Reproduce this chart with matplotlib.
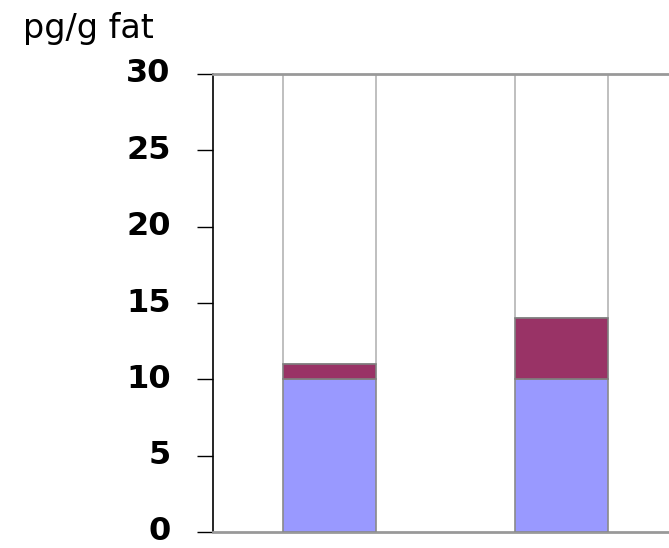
import matplotlib
matplotlib.use("Agg")
import matplotlib.pyplot as plt
import numpy as np

categories = ["A", "B"]
base_values = [10, 10]
top_values = [1, 4]
axis_max = 30
yticks = [0, 5, 10, 15, 20, 25, 30]
ylabel = "pg/g fat"

plt.rcParams['font.family'] = ['DejaVu Sans']

fig = plt.figure(figsize=(6.69, 5.48), dpi=100)
ax = fig.add_axes([213/669, 1 - 532/548, 1 - 213/669 + 0.002, (532 - 74)/548])

x = np.arange(len(categories))
base = np.array(base_values, float)
top = np.array(top_values, float)
rest = axis_max - base - top
w = 0.40

ax.bar(x, rest, w, bottom=base + top, color="white", edgecolor="#b4b4b4", linewidth=1.2, zorder=2)
ax.bar(x, base, w, color="#9999FF", edgecolor="#8a8a8a", linewidth=1.2, zorder=3)
ax.bar(x, top, w, bottom=base, color="#993366", edgecolor="#808080", linewidth=1.2, zorder=3)

ax.set_xlim(-0.504, 1.47)
ax.set_ylim(0, axis_max)
ax.set_yticks(yticks)
ax.set_yticklabels([str(t) for t in yticks], fontsize=23, fontweight="heavy", va="center")
ax.tick_params(axis="y", length=11.5, width=1, color="black", pad=19)
ax.set_xticks([])

ax.spines["right"].set_visible(False)
ax.spines["left"].set_color("black")
ax.spines["left"].set_linewidth(1.2)
ax.spines["top"].set_color("#999999")
ax.spines["top"].set_linewidth(2)
ax.spines["bottom"].set_color("#999999")
ax.spines["bottom"].set_linewidth(2)

fig.text(23/669, 1 - 38/548, ylabel, fontsize=24, ha="left", va="baseline")

fig.savefig("out.png", dpi=100)
